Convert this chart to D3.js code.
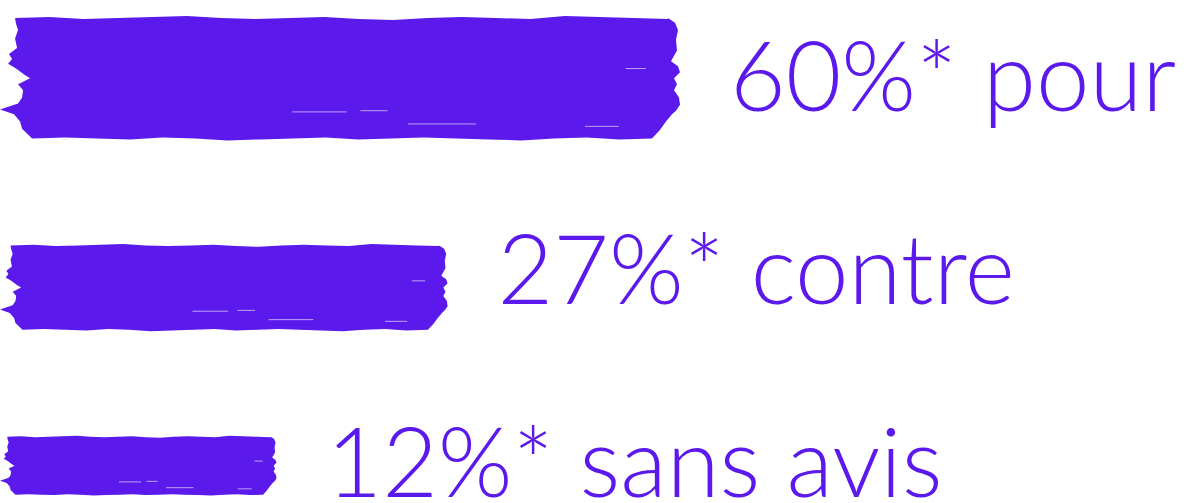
<!DOCTYPE html>
<html>
<head>
<meta charset="utf-8">
<script src="https://cdn.jsdelivr.net/npm/d3@7/dist/d3.min.js"></script>
<style>
  html, body { margin: 0; padding: 0; background: #ffffff; }
  svg { display: block; }
</style>
</head>
<body>
<svg id="chart" width="1190" height="503"></svg>
<script>
// ---- data ----
const categories = ["pour", "contre", "sans avis"];
const values = [60, 27, 12];
const valueLabels = ["60%*", "27%*", "12%*"];

// ---- layout / style ----
const W = 1190, H = 503;
const color = "#5b19eb";
const fontSize = 96;

const svg = d3.select("#chart");

const x = d3.scalePow().exponent(0.4).domain([0, 60]).range([-170, 680]);
const barH = v => 0.155 * x(v) + 15;

// label centres on an evenly spaced point scale
const yLabel = d3.scalePoint().domain(categories).range([76, 462]);

// bars stacked with constant gap
const gap = 107;
const tops = [];
let cur = 18;
values.forEach(v => { tops.push(cur); cur += barH(v) + gap; });

// brush-stroke edge profiles (style constants): [t along height, inset in px @120px height]
const rightJag = [[0,12],[0.04,5],[0.1,2],[0.18,4],[0.27,3],[0.36,9],[0.4,2],[0.45,0],[0.5,6],[0.55,3],[0.6,6],[0.66,1],[0.72,0],[0.77,4],[0.8,8],[0.86,14],[0.93,20],[1,28]];
const leftJag = [[0,15],[0.05,16],[0.1,18],[0.17,15],[0.25,17],[0.3,9],[0.34,12],[0.38,8],[0.42,16],[0.47,24],[0.5,30],[0.55,18],[0.6,23],[0.66,22],[0.71,18],[0.76,0],[0.8,14],[0.86,20],[0.92,22],[1,32]];
const topWob = [0,-1,1,0,-1,-2,0,1,0,-1,1,2,0,-1,0,1,-2,-1,0,1];
const botWob = [0,1,-1,0,2,1,0,-1,0,1,-1,0,1,2,0,-1,1,0,-1,0];

function brushPath(x1, y0, h) {
  const k = h / 120;
  const y1 = y0 + h;
  const pts = [];
  const nT = topWob.length;
  const leftTop = leftJag[0][1] * k, rightTop = rightJag[0][1] * k;
  for (let i = 0; i < nT; i++) {
    const px = leftTop + (x1 - rightTop - leftTop) * i / (nT - 1);
    pts.push([px, y0 + topWob[i] * k]);
  }
  rightJag.forEach(([t, d]) => pts.push([x1 - d * k, y0 + t * h]));
  const leftBot = leftJag[leftJag.length - 1][1] * k, rightBot = rightJag[rightJag.length - 1][1] * k;
  for (let i = 0; i < nT; i++) {
    const px = x1 - rightBot - (x1 - rightBot - leftBot) * i / (nT - 1);
    pts.push([px, y1 + botWob[i] * k]);
  }
  leftJag.slice().reverse().forEach(([t, d]) => pts.push([d * k, y0 + t * h]));
  return d3.line().curve(d3.curveLinearClosed)(pts);
}

const g = svg.append("g");

const bars = g.selectAll("g.bar").data(values).join("g").attr("class", "bar");

bars.append("path")
  .attr("d", (v, i) => brushPath(x(v), tops[i], barH(v)))
  .attr("fill", color);

// thin white streaks for brush texture
const streaks = [[0.43, 0.78, 0.08], [0.53, 0.77, 0.04], [0.6, 0.88, 0.1], [0.86, 0.9, 0.05], [0.92, 0.42, 0.03]];
bars.each(function(v, i) {
  const w = x(v), h = barH(v), y0 = tops[i];
  d3.select(this).selectAll("line.streak").data(streaks).join("line")
    .attr("class", "streak")
    .attr("x1", s => w * s[0])
    .attr("x2", s => w * (s[0] + s[2]))
    .attr("y1", s => y0 + h * s[1])
    .attr("y2", s => y0 + h * s[1])
    .attr("stroke", "#ffffff")
    .attr("stroke-opacity", 0.6)
    .attr("stroke-width", 1);
});

g.selectAll("text.label").data(values).join("text")
  .attr("class", "label")
  .attr("x", v => x(v) + 50)
  .attr("y", (v, i) => yLabel(categories[i]) + fontSize * 0.36)
  .attr("fill", color)
  .style("font-family", "Lato, 'Open Sans', sans-serif")
  .style("font-weight", 300)
  .style("font-size", fontSize + "px")
  .text((v, i) => valueLabels[i] + " " + categories[i]);
</script>
</body>
</html>
